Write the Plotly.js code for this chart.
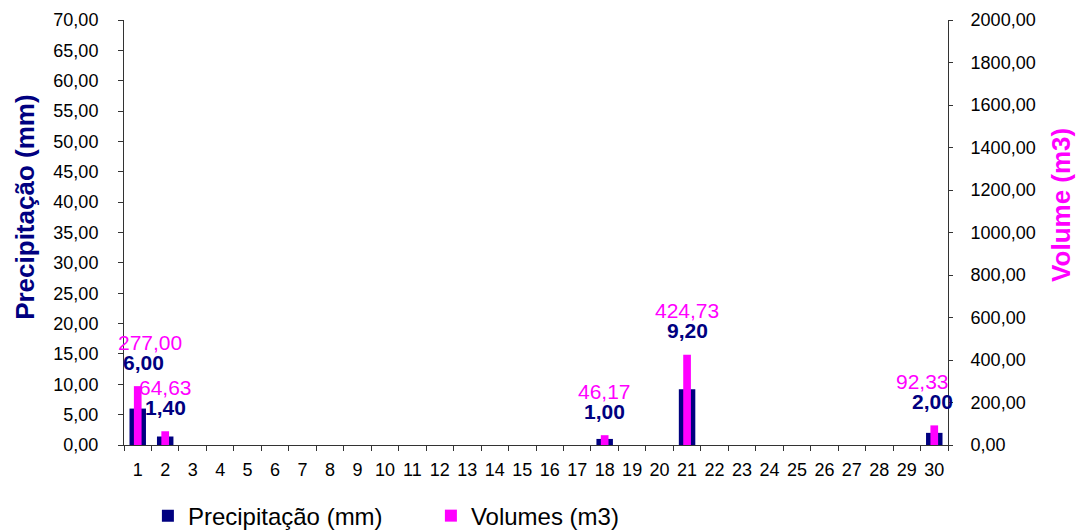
<!DOCTYPE html>
<html>
<head>
<meta charset="utf-8">
<script src="https://cdn.plot.ly/plotly-3.0.1.min.js"></script>
<style>html,body{margin:0;padding:0;background:#fff}#chart{width:1078px;height:532px}</style>
</head>
<body>
<div id="chart"></div>
<script>
const days = Array.from({length: 30}, (_, i) => String(i + 1));
const precipDays = ["1", "2", "18", "21", "30"];
const precipValues = [6.00, 1.40, 1.00, 9.20, 2.00];
const volumeValues = [277.00, 64.63, 46.17, 424.73, 92.33];
const seriesNames = ["Precipitação (mm)", "Volumes (m3)"];
const axisTitles = ["Precipitação (mm)", "Volume (m3)"];

const NAVY = "#000080", MAGENTA = "#FF00FF";
const FONT = "Liberation Sans, Arial, sans-serif";

const fmt = v => v.toFixed(2).replace(".", ",");

const traces = [
  {type: "bar", name: seriesNames[0], x: precipDays, y: precipValues, yaxis: "y",
   width: 0.6, marker: {color: NAVY}, hoverinfo: "skip"},
  {type: "bar", name: seriesNames[1], x: precipDays, y: volumeValues, yaxis: "y2",
   width: 0.28, marker: {color: MAGENTA}, hoverinfo: "skip"}
];

const annotations = [];
precipDays.forEach((d, i) => {
  const idx = days.indexOf(d);
  const first = idx === 0, last = idx === days.length - 1;
  annotations.push({x: idx, y: volumeValues[i], xref: "x", yref: "y2", text: fmt(volumeValues[i]),
    showarrow: false, yanchor: "middle", yshift: 44, xshift: first ? 12 : (last ? -12 : 0),
    font: {family: FONT, size: 21, color: MAGENTA}});
  annotations.push({x: idx, y: volumeValues[i], xref: "x", yref: "y2", text: "<b>" + fmt(precipValues[i]) + "</b>",
    showarrow: false, yanchor: "middle", yshift: 24, xshift: first ? 6 : (last ? -2 : 0),
    font: {family: FONT, size: 21, color: NAVY}});
});
annotations.push({xref: "paper", yref: "paper", x: 0, y: 0.558, xshift: -99, xanchor: "center", yanchor: "middle",
  textangle: -90, showarrow: false, text: "<b>" + axisTitles[0] + "</b>",
  font: {family: FONT, size: 26, color: NAVY}});
annotations.push({xref: "paper", yref: "paper", x: 1, y: 0.565, xshift: 113, xanchor: "center", yanchor: "middle",
  textangle: -90, showarrow: false, text: "<b>" + axisTitles[1] + "</b>",
  font: {family: FONT, size: 26, color: MAGENTA}});

const layout = {
  width: 1078, height: 532,
  margin: {l: 124, r: 130, t: 20, b: 87},
  paper_bgcolor: "#fff", plot_bgcolor: "#fff",
  separators: ",.",
  font: {family: FONT, size: 18, color: "#000"},
  barmode: "overlay",
  showlegend: true,
  legend: {orientation: "h", x: 0.029, xanchor: "left", xref: "paper",
    y: 0.03, yref: "container", yanchor: "middle",
    font: {family: FONT, size: 24, color: "#000"}, entrywidth: 238, entrywidthmode: "pixels",
    traceorder: "normal"},
  xaxis: {type: "category", categoryorder: "array", categoryarray: days, range: [-0.5, 29.5],
    tickvals: days, ticktext: days, tickson: "boundaries", ticks: "outside", ticklen: 5, tickcolor: "#333",
    tickangle: 0, automargin: false,
    showline: true, linecolor: "#333", linewidth: 1, showgrid: false, zeroline: false,
    ticklabelstandoff: 8, tickfont: {size: 18}},
  yaxis: {range: [0, 70], dtick: 5, tick0: 0, tickformat: ".2f", ticks: "outside", ticklen: 5, tickcolor: "#333",
    showline: true, linecolor: "#333", linewidth: 1, showgrid: false, zeroline: false, automargin: false,
    ticklabelstandoff: 16, tickfont: {size: 18}},
  yaxis2: {range: [0, 2000], dtick: 200, tick0: 0, tickformat: ".2f", overlaying: "y", side: "right", anchor: "x",
    ticks: "outside", ticklen: 4, tickcolor: "#333", automargin: false,
    showline: true, linecolor: "#333", linewidth: 1, showgrid: false, zeroline: false,
    ticklabelstandoff: 14, tickfont: {size: 18}},
  yaxis3: {range: [0, 2000], dtick: 200, tick0: 0, overlaying: "y", side: "right", anchor: "x",
    ticks: "inside", ticklen: 4, tickcolor: "#333", showticklabels: false, automargin: false,
    showline: false, showgrid: false, zeroline: false},
  annotations: annotations
};

Plotly.newPlot("chart", traces, layout, {staticPlot: true, displayModeBar: false});
</script>
</body>
</html>
